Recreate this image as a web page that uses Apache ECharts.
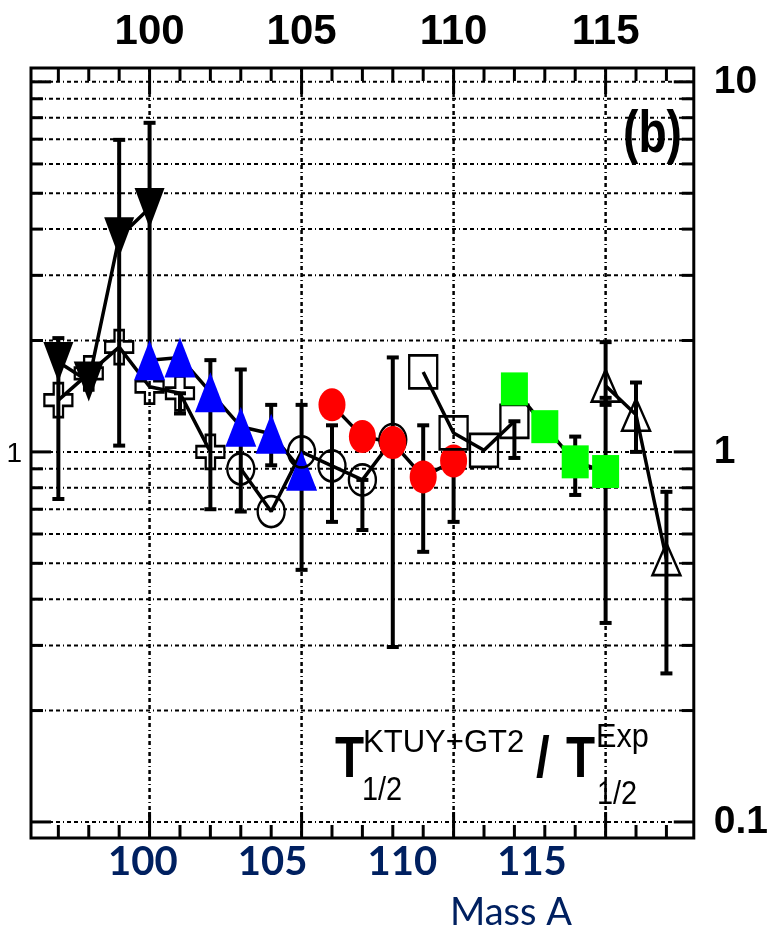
<!DOCTYPE html>
<html><head><meta charset="utf-8">
<script src="https://cdn.jsdelivr.net/npm/echarts@6/dist/echarts.min.js"></script>
<style>html,body{margin:0;padding:0;background:#fff}#c{width:771px;height:931px}</style>
</head><body><div id="c"></div>
<script>
// ---- data ----
const downTriA = [97, 98, 99, 100];
const downTriY = [1.75, 1.55, 3.8, 4.56];
const crossA = [97, 98, 99, 100, 101, 102];
const crossY = [1.38, 1.63, 1.92, 1.50, 1.44, 1.0];
const blueTriA = [100, 101, 102, 103, 104, 105];
const blueTriY = [1.77, 1.80, 1.45, 1.17, 1.12, 0.89];
const openCircA = [103, 104, 105, 106, 107, 108];
const openCircY = [0.90, 0.69, 1.0, 0.917, 0.84, 1.08];
const redA = [106, 107, 108, 109, 110];
const redY = [1.34, 1.10, 1.06, 0.856, 0.945];
const openSqA = [109, 110, 111, 112];
const openSqY = [1.645, 1.125, 1.01, 1.21];
const greenA = [112, 113, 114, 115];
const greenY = [1.48, 1.17, 0.94, 0.885];
const openTriA = [115, 116, 117];
const openTriY = [1.51, 1.26, 0.513];
// error bars: mass, low, high
const errA    = [97,   99,   100,  101,  102,  103,  104,  105,  106,   107,   108,   109,   110,   112,   114,   115,   115,  116,  117];
const errLow  = [0.746,1.04, 1.75, 1.27, 0.70, 0.69, 0.92, 0.48, 0.647, 0.615, 0.297, 0.537, 0.647, 0.963, 0.765, 0.345, 1.34, 1.0,  0.252];
const errHigh = [2.03, 6.97, 7.75, 1.44, 1.77, 1.67, 1.34, 1.34, 1.18,  0.84,  1.80,  1.18,  0.945, 1.21,  1.10,  1.98,  1.40, 1.54, 0.78];
// axes
const X_MIN = 96.1, X_MAX = 117.9;
const Y_MIN = 0.0905, Y_MAX = 10.9;
const topTickLabels = [100, 105, 110, 115];
const bottomTickLabels = [100, 105, 110, 115];
const rightTickLabels = [0.1, 1, 10];
const leftTickLabels = [1];
const gridYValues = [0.1,0.2,0.3,0.4,0.5,0.6,0.7,0.8,0.9,1,2,3,4,5,6,7,8,9,10];
const gridXMajor = [100, 105, 110, 115];
const tickXValues = [97,98,99,100,101,102,103,104,105,106,107,108,109,110,111,112,113,114,115,116,117];

const DASH = [4, 3, 4, 3, 1, 3];
const chart = echarts.init(document.getElementById('c'), null, {renderer: 'canvas'});

function hGrid(params, api) {
  const v = api.value(1);
  const cs = params.coordSys;
  const y = api.coord([X_MIN, v])[1];
  const lg = Math.log10(v);
  const decade = Math.abs(lg - Math.round(lg)) < 1e-6;
  const tl = decade ? 20 : 12;
  return {type: 'group', children: [
    {type: 'line', shape: {x1: cs.x, y1: y, x2: cs.x + cs.width, y2: y}, style: {stroke: '#000', lineWidth: 2, lineDash: DASH}},
    {type: 'line', shape: {x1: cs.x, y1: y, x2: cs.x + tl, y2: y}, style: {stroke: '#000', lineWidth: 3}},
    {type: 'line', shape: {x1: cs.x + cs.width - tl, y1: y, x2: cs.x + cs.width, y2: y}, style: {stroke: '#000', lineWidth: 3}}
  ]};
}
function vGrid(params, api) {
  const a = api.value(0);
  const cs = params.coordSys;
  const x = api.coord([a, 1])[0];
  return {type: 'line', shape: {x1: x, y1: cs.y, x2: x, y2: cs.y + cs.height}, style: {stroke: '#000', lineWidth: 2.5, lineDash: DASH}};
}
function xTicks(params, api) {
  const a = api.value(0);
  const cs = params.coordSys;
  const x = api.coord([a, 1])[0];
  const major = gridXMajor.indexOf(a) >= 0;
  const tl = major ? 26 : 13;
  return {type: 'group', children: [
    {type: 'line', shape: {x1: x, y1: cs.y, x2: x, y2: cs.y + tl}, style: {stroke: '#000', lineWidth: 3}},
    {type: 'line', shape: {x1: x, y1: cs.y + cs.height - tl, x2: x, y2: cs.y + cs.height}, style: {stroke: '#000', lineWidth: 3}}
  ]};
}
function errBar(params, api) {
  const a = api.value(0), lo = api.value(1), hi = api.value(2);
  const p1 = api.coord([a, lo]), p2 = api.coord([a, hi]);
  const cw = 6;
  const st = {stroke: '#000', lineWidth: 4};
  return {type: 'group', children: [
    {type: 'line', shape: {x1: p1[0], y1: p1[1], x2: p2[0], y2: p2[1]}, style: st},
    {type: 'line', shape: {x1: p1[0] - cw, y1: p1[1], x2: p1[0] + cw, y2: p1[1]}, style: st},
    {type: 'line', shape: {x1: p2[0] - cw, y1: p2[1], x2: p2[0] + cw, y2: p2[1]}, style: st}
  ]};
}
function leftLabel(params, api) {
  const v = api.value(1);
  const cs = params.coordSys;
  const y = api.coord([X_MIN, v])[1];
  return {type: 'text', x: cs.x - 9, y: y + 2, style: {text: String(v), font: '28px "Liberation Sans"', fill: '#000', align: 'right', verticalAlign: 'middle'}};
}
function lineSeries(xs, ys, symbol, size, fill, border, rotate) {
  return {
    type: 'line', data: xs.map((a, i) => [a, ys[i]]),
    symbol: symbol, symbolSize: size, symbolRotate: rotate || 0, showAllSymbol: true,
    lineStyle: {color: '#000', width: 3.5},
    itemStyle: {color: fill, borderColor: border || fill, borderWidth: border ? 2.5 : 0},
    z: 5, animation: false, silent: true
  };
}
const CROSS = 'path://M1,0 L2,0 L2,1 L3,1 L3,2 L2,2 L2,3 L1,3 L1,2 L0,2 L0,1 L1,1 Z';

const option = {
  animation: false,
  backgroundColor: '#fff',
  grid: {left: 31, right: 74, top: 68, bottom: 93, show: true, borderColor: '#000', borderWidth: 3, backgroundColor: 'transparent'},
  xAxis: [
    {type: 'value', position: 'top', min: X_MIN, max: X_MAX,
      axisLine: {show: false}, axisTick: {show: false}, splitLine: {show: false},
      axisLabel: {customValues: topTickLabels, fontFamily: 'Liberation Sans', fontWeight: 'bold', fontSize: 42, color: '#000', margin: 15}},
    {type: 'value', position: 'bottom', min: 95.689, max: 121.235,
      axisLine: {show: false}, axisTick: {show: false}, splitLine: {show: false},
      axisLabel: {customValues: bottomTickLabels, fontFamily: 'Lato', fontWeight: 'bold', fontSize: 40, color: '#002060', margin: 4}}
  ],
  yAxis: [
    {type: 'log', logBase: 10, position: 'left', min: Y_MIN, max: Y_MAX,
      axisLine: {show: false}, axisTick: {show: false}, splitLine: {show: false},
      axisLabel: {show: false}},
    {type: 'log', logBase: 10, position: 'right', min: Y_MIN, max: Y_MAX,
      axisLine: {show: false}, axisTick: {show: false}, splitLine: {show: false},
      axisLabel: {customValues: rightTickLabels, fontFamily: 'Liberation Sans', fontWeight: 'bold', fontSize: 39, color: '#000', margin: 20, formatter: v => String(v)}}
  ],
  series: [
    {type: 'custom', renderItem: hGrid, data: gridYValues.map(v => [X_MIN, v]), z: 1, silent: true},
    {type: 'custom', renderItem: vGrid, data: gridXMajor.map(a => [a, 1]), z: 1, silent: true},
    {type: 'custom', renderItem: xTicks, data: tickXValues.map(a => [a, 1]), z: 1, silent: true},
    {type: 'custom', renderItem: leftLabel, data: leftTickLabels.map(v => [X_MIN, v]), z: 1, silent: true},
    {type: 'custom', renderItem: errBar, data: errA.map((a, i) => [a, errLow[i], errHigh[i]]), z: 3, silent: true},
    lineSeries(crossA, crossY, CROSS, [28, 34], 'transparent', '#000'),
    lineSeries(downTriA, downTriY, 'triangle', [30, 40], '#000', null, 180),
    lineSeries(blueTriA, blueTriY, 'triangle', [31, 40], '#0000ff', null),
    lineSeries(openCircA, openCircY, 'circle', [27, 31], 'transparent', '#000'),
    lineSeries(redA, redY, 'circle', [27, 33], '#ff0000', null),
    lineSeries(openSqA, openSqY, 'rect', [28, 33], 'transparent', '#000'),
    lineSeries(greenA, greenY, 'rect', [27, 33], '#00ff00', null),
    lineSeries(openTriA, openTriY, 'triangle', [28, 32], 'transparent', '#000')
  ],
  graphic: [
    {type: 'text', x: 623, y: 135, scaleX: 0.77, style: {text: '(b)', font: 'bold 60px "Liberation Sans"', fill: '#000', align: 'left', verticalAlign: 'middle'}},
    {type: 'text', x: 335, y: 761, scaleX: 0.82, style: {text: 'T', font: 'bold 58px "Liberation Sans"', fill: '#000', align: 'left', verticalAlign: 'middle'}},
    {type: 'text', x: 363, y: 743.5, scaleX: 0.97, style: {text: 'KTUY+GT2', font: '32px "Liberation Sans"', fill: '#000', align: 'left', verticalAlign: 'middle'}},
    {type: 'text', x: 362, y: 790.5, scaleX: 0.85, style: {text: '1/2', font: '34px "Liberation Sans"', fill: '#000', align: 'left', verticalAlign: 'middle'}},
    {type: 'text', x: 536, y: 761, scaleX: 0.85, style: {text: '/', font: 'bold 58px "Liberation Sans"', fill: '#000', align: 'left', verticalAlign: 'middle'}},
    {type: 'text', x: 566, y: 761, scaleX: 0.82, style: {text: 'T', font: 'bold 58px "Liberation Sans"', fill: '#000', align: 'left', verticalAlign: 'middle'}},
    {type: 'text', x: 596, y: 737.5, scaleX: 0.93, style: {text: 'Exp', font: '33px "Liberation Sans"', fill: '#000', align: 'left', verticalAlign: 'middle'}},
    {type: 'text', x: 597, y: 795, scaleX: 0.85, style: {text: '1/2', font: '34px "Liberation Sans"', fill: '#000', align: 'left', verticalAlign: 'middle'}},
    {type: 'text', x: 450, y: 913, style: {text: 'Mass A', font: '38px Lato', fill: '#002060', align: 'left', verticalAlign: 'middle'}}
  ]
};
chart.setOption(option);
</script>
</body></html>
